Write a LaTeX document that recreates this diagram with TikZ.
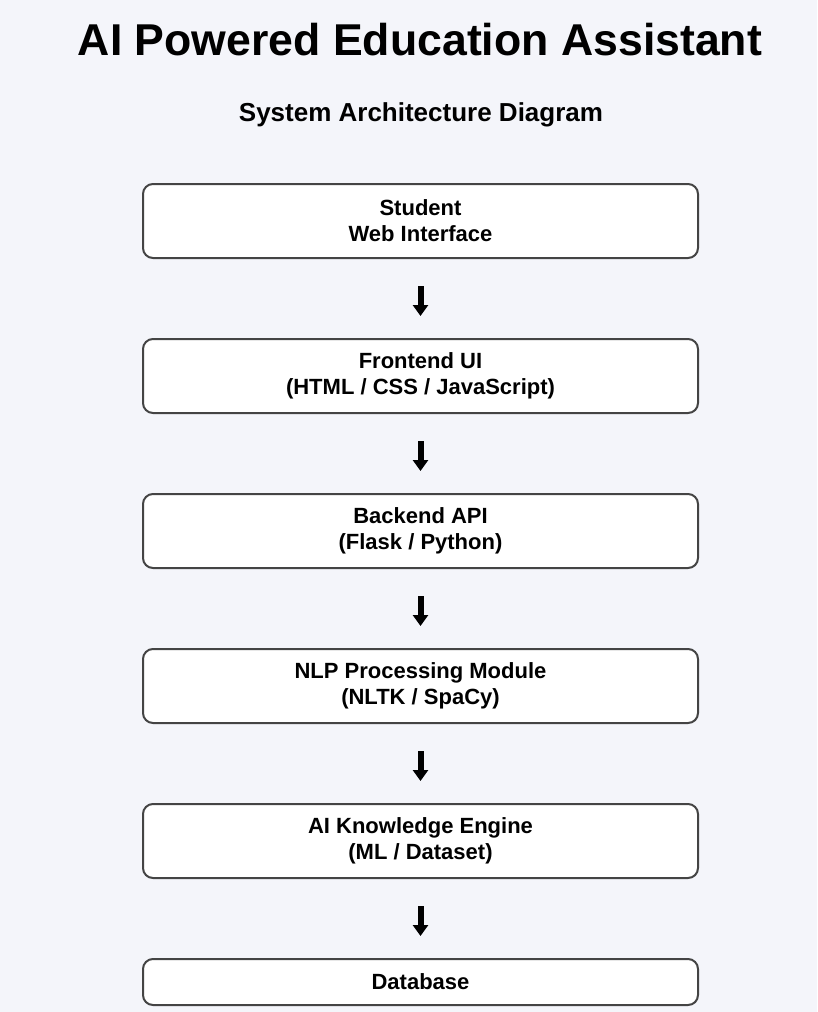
\documentclass[tikz,border=0pt]{standalone}
\usepackage{fontspec}
\setmainfont{Liberation Sans}
\usetikzlibrary{positioning,arrows.meta}

\definecolor{pagebg}{HTML}{F4F5FA}
\definecolor{boxline}{HTML}{444444}

\tikzset{
  layer/.style={draw=boxline, line width=2pt, fill=white, rounded corners=10pt,
    minimum width=555pt, minimum height=74pt, align=center, inner sep=0pt,
    font=\fontsize{22}{26}\selectfont\bfseries},
  flow/.style={line width=6pt, -{Triangle[width=15pt,length=11pt]},
    shorten <=27pt, shorten >=22pt}
}

\begin{document}
\begin{tikzpicture}[x=1pt,y=-1pt]
    % Page
    \fill[pagebg] (0,0) rectangle (817,1012);
    \useasboundingbox (0,0) rectangle (817,1012);

    %% Headings
    \node[anchor=base, font=\fontsize{44.6}{50}\selectfont\bfseries] (title) at (420,55) {AI Powered Education Assistant};
    \node[anchor=base, font=\fontsize{26}{30}\selectfont\bfseries] (subtitle) at (421,121) {System Architecture Diagram};

    %% Layers
    \node[layer] (student) at (420.5,221) {Student\\Web Interface};
    \node[layer, below=79pt of student] (frontend) {Frontend UI\\(HTML / CSS / JavaScript)};
    \node[layer, below=79pt of frontend] (backend) {Backend API\\(Flask / Python)};
    \node[layer, below=79pt of backend] (nlp) {NLP Processing Module\\(NLTK / SpaCy)};
    \node[layer, below=79pt of nlp] (engine) {AI Knowledge Engine\\(ML / Dataset)};
    \node[layer, minimum height=46pt, below=79pt of engine] (database) {Database};

    %% Arrows
    \draw[flow] (student) -- (frontend);
    \draw[flow] (frontend) -- (backend);
    \draw[flow] (backend) -- (nlp);
    \draw[flow] (nlp) -- (engine);
    \draw[flow] (engine) -- (database);
  \end{tikzpicture}
\end{document}
